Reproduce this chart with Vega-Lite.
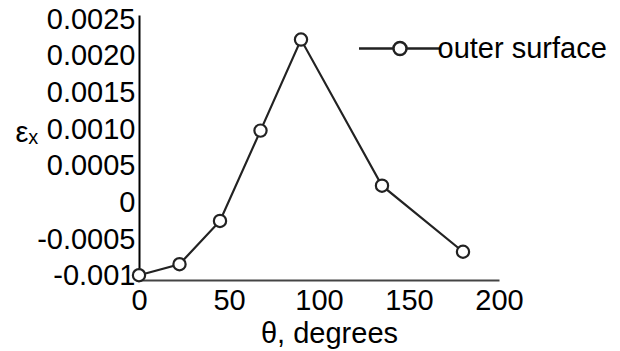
{
  "$schema": "https://vega.github.io/schema/vega-lite/v6.json",
  "width": 360,
  "height": 265,
  "autosize": "none",
  "padding": {"left": 139, "top": 15, "right": 121, "bottom": 71},
  "background": "white",
  "config": {
    "view": {"stroke": null},
    "font": "Liberation Sans",
    "axis": {"grid": false, "labelFont": "Liberation Sans", "titleFont": "Liberation Sans", "labelColor": "black", "titleColor": "black", "labelFontSize": 29, "titleFontSize": 29, "titleFontWeight": "normal", "domainWidth": 2, "ticks": false, "labelFlush": false, "labelOverlap": false}
  },
  "data": {"values": [
    {"theta": 0, "eps": -0.00099, "series": "outer surface"},
    {"theta": 22.5, "eps": -0.00084, "series": "outer surface"},
    {"theta": 45, "eps": -0.00025, "series": "outer surface"},
    {"theta": 67.5, "eps": 0.00098, "series": "outer surface"},
    {"theta": 90, "eps": 0.00222, "series": "outer surface"},
    {"theta": 135, "eps": 0.00023, "series": "outer surface"},
    {"theta": 180, "eps": -0.00067, "series": "outer surface"}
  ]},
  "encoding": {
    "x": {"field": "theta", "type": "quantitative", "scale": {"domain": [0, 200], "nice": false, "zero": false},
      "axis": {"values": [0, 50, 100, 150, 200], "title": "θ, degrees", "domainColor": "#444444", "labelPadding": 6, "titlePadding": 4, "titleX": 190}},
    "y": {"field": "eps", "type": "quantitative", "scale": {"domain": [-0.001055, 0.002555], "nice": false, "zero": false},
      "axis": {"values": [-0.001, -0.0005, 0, 0.0005, 0.001, 0.0015, 0.002, 0.0025],
        "labelExpr": "abs(datum.value) < 1e-9 ? '0' : datum.value < -0.0009 ? '-0.001' : datum.value < 0 ? '-' + format(abs(datum.value), '.4f') : format(datum.value, '.4f')",
        "labelPadding": 4, "domainColor": "black",
        "title": "εₓ", "titleAngle": 0, "titleAlign": "left", "titleBaseline": "middle", "titleX": -124, "titleY": 117}},
    "stroke": {"field": "series", "type": "nominal", "scale": {"range": ["#222222"]},
      "legend": {"title": null, "orient": "none", "legendX": 246.5, "legendY": 19, "padding": 0,
        "labelFontSize": 29, "labelFont": "Liberation Sans", "labelColor": "black", "labelOffset": 23, "labelLimit": 400,
        "symbolSize": 225, "symbolType": "M-5.47,0L-0.87,0M0.87,0L5.47,0M-0.87,0A0.87,0.87,0,1,1,0.87,0A0.87,0.87,0,1,1,-0.87,0Z",
        "symbolStrokeWidth": 2.5, "symbolFillColor": "white",
        "encode": {"symbols": {"update": {"fill": {"value": "white"}, "stroke": {"value": "#333333"}, "strokeWidth": {"value": 2.5}, "opacity": {"value": 1}, "shape": {"value": "M-5.47,0L-0.87,0M0.87,0L5.47,0M-0.87,0A0.87,0.87,0,1,1,0.87,0A0.87,0.87,0,1,1,-0.87,0Z"}}}}}}
  },
  "layer": [
    {"mark": {"type": "line", "strokeWidth": 2.2}},
    {"mark": {"type": "point", "shape": "circle", "filled": true, "fill": "white", "size": 150, "strokeWidth": 2.2, "opacity": 1}}
  ]
}
